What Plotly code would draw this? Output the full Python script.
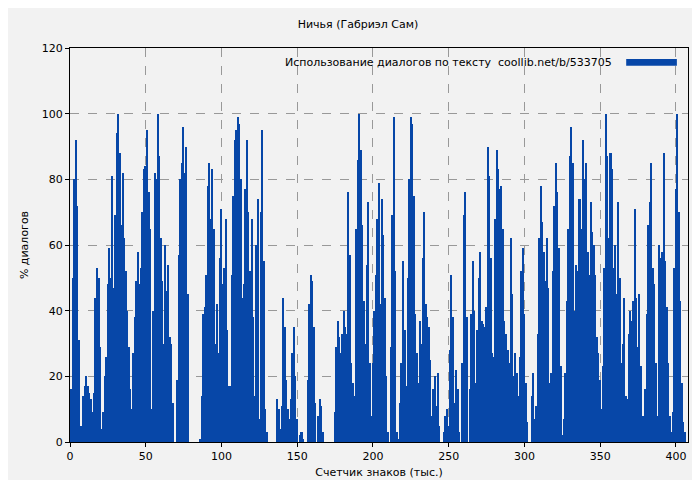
import plotly.graph_objects as go

# % of dialogue per 1000 characters (index 1..406)
seg_a = [16, 50, 80, 92, 72, 31, 5, 5, 14, 17, 20, 17, 15, 13, 9, 15, 44, 53, 50, 29,
         4, 9, 20, 26, 48, 59, 50, 81, 47, 69, 94, 100, 88, 66, 82, 62, 52, 40, 29, 16,
         10, 27, 38, 49, 58, 48, 53, 70, 83, 84, 95, 76, 65, 10, 40, 82, 80, 100, 87, 62,
         49, 30, 60, 46, 54, 32, 30]
seg_b = [12, 0, 0, 19, 57, 80, 85, 96, 82, 90, 45, 0, 0, 0, 0, 0, 0, 0, 1, 14,
         39, 41, 51, 78, 85, 68, 83, 65, 30, 42, 27, 56, 71, 48, 53, 68, 34, 17, 17, 51,
         75, 92, 95, 99, 97, 80, 44, 48, 77, 92, 70, 52, 68, 38, 14, 60, 74, 7, 70, 95,
         55, 10, 3, 0, 0, 0, 0, 0, 0]
seg_c = [13, 10, 4, 11, 44, 35, 19, 10, 7, 13, 27, 35, 20, 7, 0, 2, 3, 1, 0, 0,
         19, 42, 51, 49, 35, 12, 0, 8, 13, 11, 3, 0, 0, 0, 0, 0, 0, 0, 9, 29,
         37, 32, 27, 33, 40, 35, 33, 76, 57, 24, 18, 14, 65, 86, 100, 89, 66, 43, 30, 54,
         73, 24, 8, 24, 40, 51, 68, 79, 42, 74]
seg_d = [63, 44, 20, 3, 0, 29, 69, 99, 52, 3, 1, 12, 24, 55, 34, 17, 50, 80, 99, 97,
         75, 39, 27, 18, 37, 30, 56, 70, 42, 38, 35, 25, 8, 16, 20, 11, 21, 5, 0, 0,
         3, 8, 10, 5, 28, 51, 38, 12, 22, 16, 3, 0, 24, 69, 76, 38, 0, 16, 39, 55,
         40, 18, 34, 50, 58, 37, 36, 35, 41]
seg_e = [90, 81, 56, 27, 26, 68, 89, 83, 77, 78, 65, 37, 33, 28, 24, 62, 45, 20, 27, 21,
         14, 26, 52, 59, 39, 18, 6, 0, 0, 14, 21, 7, 11, 33, 62, 78, 67, 58, 49, 62,
         47, 18, 21, 52, 72, 85, 76, 59, 23, 2, 7, 21, 43, 65, 87, 96, 85, 40, 54, 52,
         74, 74, 65, 92, 80, 85, 58, 51, 73, 64, 60, 51, 32, 27, 19, 10, 23, 53, 100, 87,
         62]
seg_f = [88, 83, 53, 60, 45, 73, 50, 24, 30, 44, 14, 13, 33, 40, 37, 43, 71, 44, 29, 45,
         23, 8, 8, 16, 39, 66, 73, 85, 53, 48, 24, 8, 60, 56, 58, 88, 55, 41, 24, 8,
         3, 9, 53, 77, 100, 70, 43, 18, 6, 3]

values = seg_a + seg_b + seg_c + seg_d + seg_e + seg_f
chars_k = list(range(1, len(values) + 1))

legend_text = 'Использование диалогов по тексту  coollib.net/b/533705'
bar_color = '#0747a8'

fig = go.Figure(go.Bar(
    x=chars_k, y=values, name=legend_text,
    marker=dict(color=bar_color, line=dict(width=0)),
    showlegend=False,
))

axis_common = dict(
    showline=True, linecolor='black', linewidth=1, mirror=True,
    ticks='outside', ticklen=4, tickcolor='black',
    showgrid=True, gridcolor='#999999', griddash='dash', gridwidth=1,
    zeroline=False, automargin=False, tickfont=dict(size=11),
)

fig.update_layout(
    width=700, height=480,
    margin=dict(l=62, r=20, t=40, b=46),
    paper_bgcolor='#f2f2f2', plot_bgcolor='#f2f2f2',
    font=dict(family='DejaVu Sans', size=11, color='black'),
    title=dict(text='Ничья (Габриэл Сам)', x=0.5, xanchor='center', y=0.975,
               font=dict(size=11)),
    bargap=0,
    xaxis=dict(range=[0, 408], tickvals=[0, 50, 100, 150, 200, 250, 300, 350, 400],
               title=dict(text='Счетчик знаков (тыс.)', standoff=6, font=dict(size=11)),
               **axis_common),
    yaxis=dict(range=[0, 120], tickvals=[0, 20, 40, 60, 80, 100, 120],
               title=dict(text='% диалогов', standoff=10, font=dict(size=11)),
               **axis_common),
)

# legend drawn as text with the colour swatch to its right, like the original
fig.add_annotation(xref='paper', yref='paper', x=0.88, y=0.985, xanchor='right',
                   yanchor='top', text=legend_text, showarrow=False,
                   font=dict(size=11))
fig.add_shape(type='rect', xref='paper', yref='paper', x0=0.9, x1=0.982,
              y0=0.955, y1=0.972, fillcolor=bar_color, line=dict(width=0))

fig.write_html("out.html")
